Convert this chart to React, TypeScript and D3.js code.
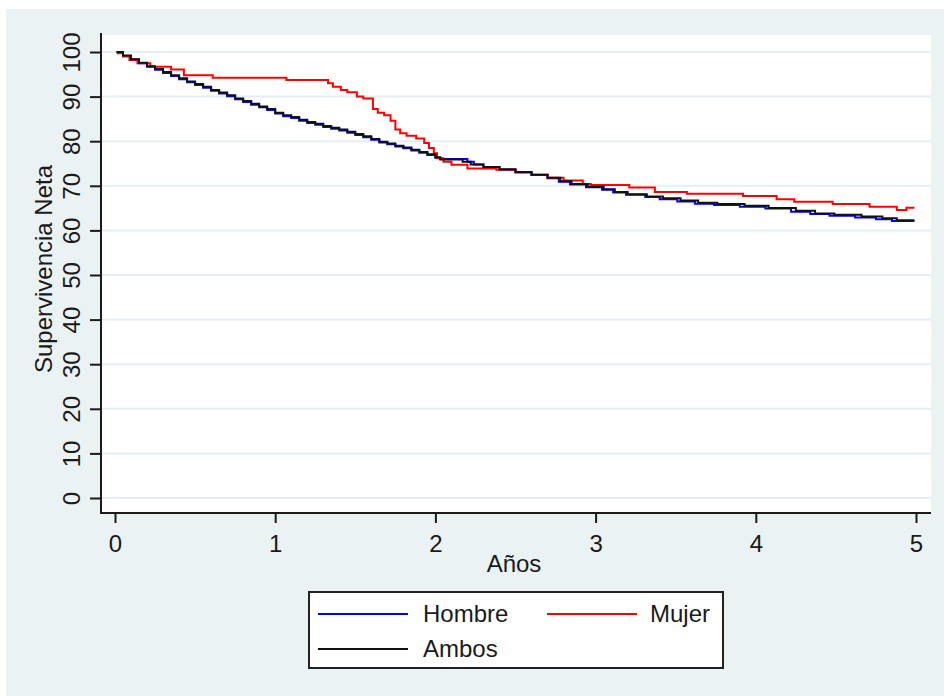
import { useRef, useEffect } from 'react';
import * as d3 from 'd3';

const W = 944;
const H = 696;

// [years, survival %]
const hombre: [number, number][] = [
  [0.01, 100], [0.05, 99.1], [0.1, 98.3], [0.15, 97.5], [0.2, 96.7], [0.25, 96.0],
  [0.3, 95.3], [0.35, 94.6], [0.4, 93.9], [0.45, 93.2], [0.5, 92.6], [0.55, 92.0],
  [0.6, 91.3], [0.65, 90.7], [0.7, 90.1], [0.75, 89.4], [0.8, 88.8], [0.85, 88.2],
  [0.9, 87.6], [0.95, 87.0], [1.0, 86.2], [1.05, 85.6], [1.1, 85.2], [1.15, 84.6],
  [1.2, 84.1], [1.25, 83.7], [1.3, 83.2], [1.35, 82.8], [1.4, 82.4], [1.45, 81.9],
  [1.5, 81.4], [1.55, 80.9], [1.6, 80.3], [1.65, 79.7], [1.7, 79.3], [1.75, 78.8],
  [1.8, 78.4], [1.85, 77.9], [1.9, 77.4], [1.95, 76.9], [2.0, 76.3], [2.03, 76.0],
  [2.2, 75.4], [2.24, 74.8], [2.3, 74.2], [2.4, 73.6], [2.5, 73.0], [2.6, 72.4],
  [2.7, 71.7], [2.77, 70.9], [2.84, 70.3], [2.94, 69.7], [3.04, 69.1], [3.11, 68.5],
  [3.19, 68.0], [3.31, 67.5], [3.4, 67.0], [3.51, 66.5], [3.62, 66.0], [3.74, 65.7],
  [3.9, 65.3], [4.06, 64.9], [4.22, 64.2], [4.34, 63.7], [4.46, 63.3], [4.62, 62.9],
  [4.75, 62.5], [4.85, 62.1], [4.99, 62.1],
];

const mujer: [number, number][] = [
  [0.01, 99.7], [0.05, 99.0], [0.09, 98.2], [0.14, 97.5], [0.22, 96.7], [0.35, 96.1],
  [0.43, 94.8], [0.61, 94.2], [1.07, 93.7], [1.33, 93.0], [1.36, 92.2], [1.41, 91.5],
  [1.45, 91.0], [1.51, 90.0], [1.55, 89.6], [1.61, 87.2], [1.64, 86.4], [1.68, 85.8],
  [1.72, 84.6], [1.75, 82.6], [1.78, 81.8], [1.82, 81.2], [1.88, 80.6], [1.93, 79.6],
  [1.96, 78.5], [1.99, 77.3], [2.01, 76.2], [2.05, 75.4], [2.1, 74.7], [2.2, 73.9],
  [2.38, 73.6], [2.5, 73.1], [2.6, 72.5], [2.7, 71.8], [2.8, 71.2], [2.92, 70.4],
  [2.97, 70.2], [3.21, 69.6], [3.37, 68.6], [3.57, 68.2], [3.92, 67.7], [4.13, 67.0],
  [4.24, 66.4], [4.48, 65.9], [4.71, 65.3], [4.88, 64.6], [4.94, 65.1], [4.99, 65.1],
];

const ambos: [number, number][] = [
  [0.01, 100], [0.05, 99.2], [0.1, 98.4], [0.15, 97.6], [0.2, 96.8], [0.25, 96.2],
  [0.3, 95.5], [0.35, 94.8], [0.4, 94.1], [0.45, 93.4], [0.5, 92.8], [0.55, 92.2],
  [0.6, 91.5], [0.65, 90.9], [0.7, 90.3], [0.75, 89.6], [0.8, 89.0], [0.85, 88.4],
  [0.9, 87.8], [0.95, 87.2], [1.0, 86.4], [1.05, 85.8], [1.1, 85.4], [1.15, 84.8],
  [1.2, 84.3], [1.25, 83.9], [1.3, 83.4], [1.35, 83.0], [1.4, 82.6], [1.45, 82.1],
  [1.5, 81.6], [1.55, 81.1], [1.6, 80.5], [1.65, 79.9], [1.7, 79.5], [1.75, 79.0],
  [1.8, 78.6], [1.85, 78.1], [1.9, 77.6], [1.95, 77.1], [2.0, 76.4], [2.03, 75.9],
  [2.17, 75.4], [2.22, 74.8], [2.3, 74.2], [2.4, 73.7], [2.5, 73.1], [2.6, 72.5],
  [2.7, 71.8], [2.78, 71.0], [2.85, 70.4], [2.95, 69.8], [3.05, 69.2], [3.12, 68.6],
  [3.2, 68.1], [3.32, 67.6], [3.42, 67.2], [3.53, 66.7], [3.64, 66.2], [3.76, 65.9],
  [3.93, 65.5], [4.08, 65.0], [4.25, 64.4], [4.37, 63.8], [4.49, 63.5], [4.66, 63.1],
  [4.79, 62.7], [4.88, 62.3], [4.99, 62.3],
];

const xTicks = [0, 1, 2, 3, 4, 5];
const yTicks = [0, 10, 20, 30, 40, 50, 60, 70, 80, 90, 100];

const series = [
  { label: 'Hombre', data: hombre, color: '#0000ff' },
  { label: 'Mujer', data: mujer, color: '#ff0000' },
  { label: 'Ambos', data: ambos, color: '#111111' },
];

const FONT = '"Liberation Sans", Arial, sans-serif';
const BG = '#eaf2f3';
const GRID = '#e6eef2';
const INK = '#1a1a1a';

export default function App() {
  const svgRef = useRef<SVGSVGElement>(null);

  useEffect(() => {
    const svg = d3.select(svgRef.current);
    svg.selectAll('*').remove();

    // plot region
    const left = 101, right = 931, top = 35, bottom = 513;
    const x = d3.scaleLinear().domain([0, 5]).range([115, 916]);
    const y = d3.scaleLinear().domain([0, 100]).range([498, 52]);

    svg.append('rect').attr('width', W).attr('height', H).attr('fill', '#ffffff');
    svg.append('rect').attr('x', 6).attr('y', 9)
      .attr('width', W - 6).attr('height', H - 9).attr('fill', BG);
    svg.append('rect').attr('x', left).attr('y', top)
      .attr('width', right - left).attr('height', bottom - top).attr('fill', '#ffffff');

    // Gridlines
    svg.append('g').selectAll('line').data(yTicks).join('line')
      .attr('x1', left + 1).attr('x2', right)
      .attr('y1', d => y(d)).attr('y2', d => y(d))
      .attr('stroke', GRID).attr('stroke-width', 2);

    // Curves (step functions)
    const line = d3.line<[number, number]>()
      .x(d => x(d[0]))
      .y(d => y(d[1]))
      .curve(d3.curveStepAfter);

    series.forEach(s => {
      svg.append('path')
        .datum(s.data)
        .attr('fill', 'none')
        .attr('stroke', s.color)
        .attr('stroke-width', 2)
        .attr('d', line);
    });

    // Axes
    const yAxis = svg.append('g').attr('transform', `translate(${left},0)`)
      .call(d3.axisLeft(y).tickValues(yTicks).tickSize(11).tickSizeOuter(0).tickFormat(d3.format('d')));
    yAxis.select('.domain').remove();
    yAxis.selectAll('line').attr('stroke', INK).attr('stroke-width', 2);
    yAxis.selectAll('text')
      .attr('x', null).attr('dy', null)
      .attr('transform', 'translate(-21,0) rotate(-90)')
      .attr('text-anchor', 'middle')
      .attr('font-family', FONT).attr('font-size', 24).attr('fill', INK);

    const xAxis = svg.append('g').attr('transform', `translate(0,${bottom})`)
      .call(d3.axisBottom(x).tickValues(xTicks).tickSize(10).tickSizeOuter(0).tickFormat(d3.format('d')));
    xAxis.select('.domain').remove();
    xAxis.selectAll('line').attr('stroke', INK).attr('stroke-width', 2);
    xAxis.selectAll('text')
      .attr('y', 39).attr('dy', null)
      .attr('font-family', FONT).attr('font-size', 24).attr('fill', INK);

    svg.append('line').attr('x1', left).attr('x2', left)
      .attr('y1', top - 2).attr('y2', bottom + 1)
      .attr('stroke', INK).attr('stroke-width', 2);
    svg.append('line').attr('x1', left).attr('x2', right)
      .attr('y1', bottom).attr('y2', bottom)
      .attr('stroke', INK).attr('stroke-width', 2);

    // Axis titles
    svg.append('text')
      .attr('transform', 'translate(52,269) rotate(-90)')
      .attr('text-anchor', 'middle')
      .attr('font-family', FONT).attr('font-size', 24).attr('fill', INK)
      .text('Supervivencia Neta');
    svg.append('text')
      .attr('x', 514).attr('y', 572)
      .attr('text-anchor', 'middle')
      .attr('font-family', FONT).attr('font-size', 24).attr('fill', INK)
      .text('Años');

    // Legend
    const legend = svg.append('g');
    legend.append('rect')
      .attr('x', 309).attr('y', 592).attr('width', 414).attr('height', 76)
      .attr('fill', '#ffffff').attr('stroke', '#222222').attr('stroke-width', 2);
    const slots = [
      { lx: 318, ty: 614, tx: 423 },
      { lx: 547, ty: 614, tx: 650 },
      { lx: 318, ty: 649, tx: 423 },
    ];
    series.forEach((s, i) => {
      const p = slots[i];
      legend.append('line')
        .attr('x1', p.lx).attr('x2', p.lx + 90)
        .attr('y1', p.ty).attr('y2', p.ty)
        .attr('stroke', s.color).attr('stroke-width', 2);
      legend.append('text')
        .attr('x', p.tx).attr('y', p.ty + 8)
        .attr('font-family', FONT).attr('font-size', 24).attr('fill', INK)
        .text(s.label);
    });
  }, []);

  return (
    <svg
      ref={svgRef}
      width={W}
      height={H}
      style={{ position: 'absolute', left: 0, top: 0 }}
    />
  );
}
